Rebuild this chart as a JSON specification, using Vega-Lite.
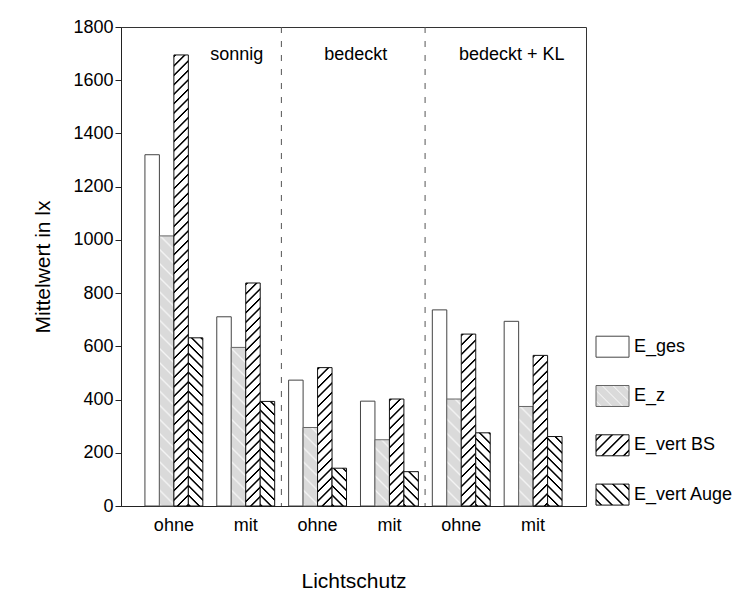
{
"$schema":"https://vega.github.io/schema/vega-lite/v6.json",
"width":465,"height":479,
"autosize":{"type":"none"},
"padding":{"left":121,"top":27,"right":158,"bottom":86},
"params":[
{"name":"sB","value":[{"offset":0,"color":"#fff"},{"offset":0.002,"color":"#000"},{"offset":0.0045,"color":"#000"},{"offset":0.0065,"color":"#fff"},
{"offset":0.02,"color":"#fff"},{"offset":0.022,"color":"#000"},{"offset":0.0245,"color":"#000"},{"offset":0.0265,"color":"#fff"},
{"offset":0.04,"color":"#fff"},{"offset":0.042,"color":"#000"},{"offset":0.0445,"color":"#000"},{"offset":0.0465,"color":"#fff"},
{"offset":0.06,"color":"#fff"},{"offset":0.062,"color":"#000"},{"offset":0.0645,"color":"#000"},{"offset":0.0665,"color":"#fff"},
{"offset":0.08,"color":"#fff"},{"offset":0.082,"color":"#000"},{"offset":0.0845,"color":"#000"},{"offset":0.0865,"color":"#fff"},
{"offset":0.1,"color":"#fff"},{"offset":0.102,"color":"#000"},{"offset":0.1045,"color":"#000"},{"offset":0.1065,"color":"#fff"},
{"offset":0.12,"color":"#fff"},{"offset":0.122,"color":"#000"},{"offset":0.1245,"color":"#000"},{"offset":0.1265,"color":"#fff"},
{"offset":0.14,"color":"#fff"},{"offset":0.142,"color":"#000"},{"offset":0.1445,"color":"#000"},{"offset":0.1465,"color":"#fff"},
{"offset":0.16,"color":"#fff"},{"offset":0.162,"color":"#000"},{"offset":0.1645,"color":"#000"},{"offset":0.1665,"color":"#fff"},
{"offset":0.18,"color":"#fff"},{"offset":0.182,"color":"#000"},{"offset":0.1845,"color":"#000"},{"offset":0.1865,"color":"#fff"},
{"offset":0.2,"color":"#fff"},{"offset":0.202,"color":"#000"},{"offset":0.2045,"color":"#000"},{"offset":0.2065,"color":"#fff"},
{"offset":0.22,"color":"#fff"},{"offset":0.222,"color":"#000"},{"offset":0.2245,"color":"#000"},{"offset":0.2265,"color":"#fff"},
{"offset":0.24,"color":"#fff"},{"offset":0.242,"color":"#000"},{"offset":0.2445,"color":"#000"},{"offset":0.2465,"color":"#fff"},
{"offset":0.26,"color":"#fff"},{"offset":0.262,"color":"#000"},{"offset":0.2645,"color":"#000"},{"offset":0.2665,"color":"#fff"},
{"offset":0.28,"color":"#fff"},{"offset":0.282,"color":"#000"},{"offset":0.2845,"color":"#000"},{"offset":0.2865,"color":"#fff"},
{"offset":0.3,"color":"#fff"},{"offset":0.302,"color":"#000"},{"offset":0.3045,"color":"#000"},{"offset":0.3065,"color":"#fff"},
{"offset":0.32,"color":"#fff"},{"offset":0.322,"color":"#000"},{"offset":0.3245,"color":"#000"},{"offset":0.3265,"color":"#fff"},
{"offset":0.34,"color":"#fff"},{"offset":0.342,"color":"#000"},{"offset":0.3445,"color":"#000"},{"offset":0.3465,"color":"#fff"},
{"offset":0.36,"color":"#fff"},{"offset":0.362,"color":"#000"},{"offset":0.3645,"color":"#000"},{"offset":0.3665,"color":"#fff"},
{"offset":0.38,"color":"#fff"},{"offset":0.382,"color":"#000"},{"offset":0.3845,"color":"#000"},{"offset":0.3865,"color":"#fff"},
{"offset":0.4,"color":"#fff"},{"offset":0.402,"color":"#000"},{"offset":0.4045,"color":"#000"},{"offset":0.4065,"color":"#fff"},
{"offset":0.42,"color":"#fff"},{"offset":0.422,"color":"#000"},{"offset":0.4245,"color":"#000"},{"offset":0.4265,"color":"#fff"},
{"offset":0.44,"color":"#fff"},{"offset":0.442,"color":"#000"},{"offset":0.4445,"color":"#000"},{"offset":0.4465,"color":"#fff"},
{"offset":0.46,"color":"#fff"},{"offset":0.462,"color":"#000"},{"offset":0.4645,"color":"#000"},{"offset":0.4665,"color":"#fff"},
{"offset":0.48,"color":"#fff"},{"offset":0.482,"color":"#000"},{"offset":0.4845,"color":"#000"},{"offset":0.4865,"color":"#fff"},
{"offset":0.5,"color":"#fff"},{"offset":0.502,"color":"#000"},{"offset":0.5045,"color":"#000"},{"offset":0.5065,"color":"#fff"},
{"offset":0.52,"color":"#fff"},{"offset":0.522,"color":"#000"},{"offset":0.5245,"color":"#000"},{"offset":0.5265,"color":"#fff"},
{"offset":0.54,"color":"#fff"},{"offset":0.542,"color":"#000"},{"offset":0.5445,"color":"#000"},{"offset":0.5465,"color":"#fff"},
{"offset":0.56,"color":"#fff"},{"offset":0.562,"color":"#000"},{"offset":0.5645,"color":"#000"},{"offset":0.5665,"color":"#fff"},
{"offset":0.58,"color":"#fff"},{"offset":0.582,"color":"#000"},{"offset":0.5845,"color":"#000"},{"offset":0.5865,"color":"#fff"},
{"offset":0.6,"color":"#fff"},{"offset":0.602,"color":"#000"},{"offset":0.6045,"color":"#000"},{"offset":0.6065,"color":"#fff"},
{"offset":0.62,"color":"#fff"},{"offset":0.622,"color":"#000"},{"offset":0.6245,"color":"#000"},{"offset":0.6265,"color":"#fff"},
{"offset":0.64,"color":"#fff"},{"offset":0.642,"color":"#000"},{"offset":0.6445,"color":"#000"},{"offset":0.6465,"color":"#fff"},
{"offset":0.66,"color":"#fff"},{"offset":0.662,"color":"#000"},{"offset":0.6645,"color":"#000"},{"offset":0.6665,"color":"#fff"},
{"offset":0.68,"color":"#fff"},{"offset":0.682,"color":"#000"},{"offset":0.6845,"color":"#000"},{"offset":0.6865,"color":"#fff"},
{"offset":0.7,"color":"#fff"},{"offset":0.702,"color":"#000"},{"offset":0.7045,"color":"#000"},{"offset":0.7065,"color":"#fff"},
{"offset":0.72,"color":"#fff"},{"offset":0.722,"color":"#000"},{"offset":0.7245,"color":"#000"},{"offset":0.7265,"color":"#fff"},
{"offset":0.74,"color":"#fff"},{"offset":0.742,"color":"#000"},{"offset":0.7445,"color":"#000"},{"offset":0.7465,"color":"#fff"},
{"offset":0.76,"color":"#fff"},{"offset":0.762,"color":"#000"},{"offset":0.7645,"color":"#000"},{"offset":0.7665,"color":"#fff"},
{"offset":0.78,"color":"#fff"},{"offset":0.782,"color":"#000"},{"offset":0.7845,"color":"#000"},{"offset":0.7865,"color":"#fff"},
{"offset":0.8,"color":"#fff"},{"offset":0.802,"color":"#000"},{"offset":0.8045,"color":"#000"},{"offset":0.8065,"color":"#fff"},
{"offset":0.82,"color":"#fff"},{"offset":0.822,"color":"#000"},{"offset":0.8245,"color":"#000"},{"offset":0.8265,"color":"#fff"},
{"offset":0.84,"color":"#fff"},{"offset":0.842,"color":"#000"},{"offset":0.8445,"color":"#000"},{"offset":0.8465,"color":"#fff"},
{"offset":0.86,"color":"#fff"},{"offset":0.862,"color":"#000"},{"offset":0.8645,"color":"#000"},{"offset":0.8665,"color":"#fff"},
{"offset":0.88,"color":"#fff"},{"offset":0.882,"color":"#000"},{"offset":0.8845,"color":"#000"},{"offset":0.8865,"color":"#fff"},
{"offset":0.9,"color":"#fff"},{"offset":0.902,"color":"#000"},{"offset":0.9045,"color":"#000"},{"offset":0.9065,"color":"#fff"},
{"offset":0.92,"color":"#fff"},{"offset":0.922,"color":"#000"},{"offset":0.9245,"color":"#000"},{"offset":0.9265,"color":"#fff"},
{"offset":0.94,"color":"#fff"},{"offset":0.942,"color":"#000"},{"offset":0.9445,"color":"#000"},{"offset":0.9465,"color":"#fff"},
{"offset":0.96,"color":"#fff"},{"offset":0.962,"color":"#000"},{"offset":0.9645,"color":"#000"},{"offset":0.9665,"color":"#fff"},
{"offset":0.98,"color":"#fff"},{"offset":0.982,"color":"#000"},{"offset":0.9845,"color":"#000"},{"offset":0.9865,"color":"#fff"},
{"offset":1,"color":"#fff"}]},
{"name":"sG","value":[{"offset":0,"color":"#dadada"},{"offset":0.004,"color":"#f4f4f4"},{"offset":0.008,"color":"#dadada"},
{"offset":0.03,"color":"#dadada"},{"offset":0.034,"color":"#f4f4f4"},{"offset":0.038,"color":"#dadada"},
{"offset":0.06,"color":"#dadada"},{"offset":0.064,"color":"#f4f4f4"},{"offset":0.068,"color":"#dadada"},
{"offset":0.09,"color":"#dadada"},{"offset":0.094,"color":"#f4f4f4"},{"offset":0.098,"color":"#dadada"},
{"offset":0.12,"color":"#dadada"},{"offset":0.124,"color":"#f4f4f4"},{"offset":0.128,"color":"#dadada"},
{"offset":0.15,"color":"#dadada"},{"offset":0.154,"color":"#f4f4f4"},{"offset":0.158,"color":"#dadada"},
{"offset":0.18,"color":"#dadada"},{"offset":0.184,"color":"#f4f4f4"},{"offset":0.188,"color":"#dadada"},
{"offset":0.21,"color":"#dadada"},{"offset":0.214,"color":"#f4f4f4"},{"offset":0.218,"color":"#dadada"},
{"offset":0.24,"color":"#dadada"},{"offset":0.244,"color":"#f4f4f4"},{"offset":0.248,"color":"#dadada"},
{"offset":0.27,"color":"#dadada"},{"offset":0.274,"color":"#f4f4f4"},{"offset":0.278,"color":"#dadada"},
{"offset":0.3,"color":"#dadada"},{"offset":0.304,"color":"#f4f4f4"},{"offset":0.308,"color":"#dadada"},
{"offset":0.33,"color":"#dadada"},{"offset":0.334,"color":"#f4f4f4"},{"offset":0.338,"color":"#dadada"},
{"offset":0.36,"color":"#dadada"},{"offset":0.364,"color":"#f4f4f4"},{"offset":0.368,"color":"#dadada"},
{"offset":0.39,"color":"#dadada"},{"offset":0.394,"color":"#f4f4f4"},{"offset":0.398,"color":"#dadada"},
{"offset":0.42,"color":"#dadada"},{"offset":0.424,"color":"#f4f4f4"},{"offset":0.428,"color":"#dadada"},
{"offset":0.45,"color":"#dadada"},{"offset":0.454,"color":"#f4f4f4"},{"offset":0.458,"color":"#dadada"},
{"offset":0.48,"color":"#dadada"},{"offset":0.484,"color":"#f4f4f4"},{"offset":0.488,"color":"#dadada"},
{"offset":0.51,"color":"#dadada"},{"offset":0.514,"color":"#f4f4f4"},{"offset":0.518,"color":"#dadada"},
{"offset":0.54,"color":"#dadada"},{"offset":0.544,"color":"#f4f4f4"},{"offset":0.548,"color":"#dadada"},
{"offset":0.57,"color":"#dadada"},{"offset":0.574,"color":"#f4f4f4"},{"offset":0.578,"color":"#dadada"},
{"offset":0.6,"color":"#dadada"},{"offset":0.604,"color":"#f4f4f4"},{"offset":0.608,"color":"#dadada"},
{"offset":0.63,"color":"#dadada"},{"offset":0.634,"color":"#f4f4f4"},{"offset":0.638,"color":"#dadada"},
{"offset":0.66,"color":"#dadada"},{"offset":0.664,"color":"#f4f4f4"},{"offset":0.668,"color":"#dadada"},
{"offset":0.69,"color":"#dadada"},{"offset":0.694,"color":"#f4f4f4"},{"offset":0.698,"color":"#dadada"},
{"offset":0.72,"color":"#dadada"},{"offset":0.724,"color":"#f4f4f4"},{"offset":0.728,"color":"#dadada"},
{"offset":0.75,"color":"#dadada"},{"offset":0.754,"color":"#f4f4f4"},{"offset":0.758,"color":"#dadada"},
{"offset":0.78,"color":"#dadada"},{"offset":0.784,"color":"#f4f4f4"},{"offset":0.788,"color":"#dadada"},
{"offset":0.81,"color":"#dadada"},{"offset":0.814,"color":"#f4f4f4"},{"offset":0.818,"color":"#dadada"},
{"offset":0.84,"color":"#dadada"},{"offset":0.844,"color":"#f4f4f4"},{"offset":0.848,"color":"#dadada"},
{"offset":0.87,"color":"#dadada"},{"offset":0.874,"color":"#f4f4f4"},{"offset":0.878,"color":"#dadada"},
{"offset":0.9,"color":"#dadada"},{"offset":0.904,"color":"#f4f4f4"},{"offset":0.908,"color":"#dadada"},
{"offset":0.93,"color":"#dadada"},{"offset":0.934,"color":"#f4f4f4"},{"offset":0.938,"color":"#dadada"},
{"offset":0.96,"color":"#dadada"},{"offset":0.964,"color":"#f4f4f4"},{"offset":0.968,"color":"#dadada"},
{"offset":0.99,"color":"#dadada"},{"offset":0.994,"color":"#f4f4f4"},{"offset":0.998,"color":"#dadada"},
{"offset":1,"color":"#dadada"}]},
{"name":"lB","value":[{"offset":0,"color":"#fff"},
{"offset":0.07,"color":"#fff"},{"offset":0.09,"color":"#000"},{"offset":0.11,"color":"#000"},{"offset":0.13,"color":"#fff"},
{"offset":0.27,"color":"#fff"},{"offset":0.29,"color":"#000"},{"offset":0.31,"color":"#000"},{"offset":0.33,"color":"#fff"},
{"offset":0.47,"color":"#fff"},{"offset":0.49,"color":"#000"},{"offset":0.51,"color":"#000"},{"offset":0.53,"color":"#fff"},
{"offset":0.67,"color":"#fff"},{"offset":0.69,"color":"#000"},{"offset":0.71,"color":"#000"},{"offset":0.73,"color":"#fff"},
{"offset":0.87,"color":"#fff"},{"offset":0.89,"color":"#000"},{"offset":0.91,"color":"#000"},{"offset":0.93,"color":"#fff"},
{"offset":1,"color":"#fff"}]},
{"name":"lG","value":[{"offset":0,"color":"#dadada"},
{"offset":0.075,"color":"#dadada"},{"offset":0.1,"color":"#f4f4f4"},{"offset":0.125,"color":"#dadada"},
{"offset":0.275,"color":"#dadada"},{"offset":0.3,"color":"#f4f4f4"},{"offset":0.325,"color":"#dadada"},
{"offset":0.475,"color":"#dadada"},{"offset":0.5,"color":"#f4f4f4"},{"offset":0.525,"color":"#dadada"},
{"offset":0.675,"color":"#dadada"},{"offset":0.7,"color":"#f4f4f4"},{"offset":0.725,"color":"#dadada"},
{"offset":0.875,"color":"#dadada"},{"offset":0.9,"color":"#f4f4f4"},{"offset":0.925,"color":"#dadada"},
{"offset":1,"color":"#dadada"}]}
],
"data":{"values":[
{"g":"sonnig|ohne","series":"E_ges","value":1320},
{"g":"sonnig|ohne","series":"E_z","value":1015},
{"g":"sonnig|ohne","series":"E_vert BS","value":1695},
{"g":"sonnig|ohne","series":"E_vert Auge","value":632},
{"g":"sonnig|mit","series":"E_ges","value":711},
{"g":"sonnig|mit","series":"E_z","value":596},
{"g":"sonnig|mit","series":"E_vert BS","value":838},
{"g":"sonnig|mit","series":"E_vert Auge","value":393},
{"g":"bedeckt|ohne","series":"E_ges","value":473},
{"g":"bedeckt|ohne","series":"E_z","value":295},
{"g":"bedeckt|ohne","series":"E_vert BS","value":520},
{"g":"bedeckt|ohne","series":"E_vert Auge","value":142},
{"g":"bedeckt|mit","series":"E_ges","value":394},
{"g":"bedeckt|mit","series":"E_z","value":249},
{"g":"bedeckt|mit","series":"E_vert BS","value":402},
{"g":"bedeckt|mit","series":"E_vert Auge","value":129},
{"g":"bedeckt + KL|ohne","series":"E_ges","value":737},
{"g":"bedeckt + KL|ohne","series":"E_z","value":402},
{"g":"bedeckt + KL|ohne","series":"E_vert BS","value":646},
{"g":"bedeckt + KL|ohne","series":"E_vert Auge","value":275},
{"g":"bedeckt + KL|mit","series":"E_ges","value":694},
{"g":"bedeckt + KL|mit","series":"E_z","value":374},
{"g":"bedeckt + KL|mit","series":"E_vert BS","value":566},
{"g":"bedeckt + KL|mit","series":"E_vert Auge","value":261}
]},
"config":{
"font":"Liberation Sans",
"view":{"stroke":"#333","strokeWidth":1},
"axis":{"grid":false,"labelFont":"Liberation Sans","titleFont":"Liberation Sans","labelColor":"#000","titleColor":"#000","domainColor":"#222","tickColor":"#222","labelFontSize":18,"titleFontSize":21,"titleFontWeight":"normal"}
},
"layer":[
{
"mark":{"type":"bar","strokeWidth":1},
"encoding":{
"x":{"field":"g","type":"nominal","title":"Lichtschutz","scale":{"domain":["sonnig|ohne","sonnig|mit","bedeckt|ohne","bedeckt|mit","bedeckt + KL|ohne","bedeckt + KL|mit"],"paddingInner":0.194,"paddingOuter":0.333},
"axis":{"labelExpr":"split(datum.label,'|')[1]","labelAngle":0,"ticks":false,"labelPadding":10,"titlePadding":36}},
"xOffset":{"field":"series","type":"nominal","scale":{"domain":["E_ges","E_z","E_vert BS","E_vert Auge"],"paddingInner":0,"paddingOuter":0}},
"y":{"field":"value","type":"quantitative","title":"Mittelwert in lx","scale":{"domain":[0,1800],"nice":false},
"axis":{"values":[0,200,400,600,800,1000,1200,1400,1600,1800],"format":"d","tickSize":6,"labelPadding":2,"titlePadding":19}},
"fill":{"value":{"expr":"datum.series ? (datum.series === 'E_z' ? {gradient:'linear',x1:0,y1:1,x2:472*bandwidth('xOffset')/(pow(bandwidth('xOffset'),2)+pow(scale('y',0)-scale('y',datum.value),2)),y2:1-472*(scale('y',0)-scale('y',datum.value))/(pow(bandwidth('xOffset'),2)+pow(scale('y',0)-scale('y',datum.value),2)),stops:sG} : datum.series === 'E_vert BS' ? {gradient:'linear',x1:0,y1:0,x2:472*bandwidth('xOffset')/(pow(bandwidth('xOffset'),2)+pow(scale('y',0)-scale('y',datum.value),2)),y2:472*(scale('y',0)-scale('y',datum.value))/(pow(bandwidth('xOffset'),2)+pow(scale('y',0)-scale('y',datum.value),2)),stops:sB} : datum.series === 'E_vert Auge' ? {gradient:'linear',x1:0,y1:1,x2:472*bandwidth('xOffset')/(pow(bandwidth('xOffset'),2)+pow(scale('y',0)-scale('y',datum.value),2)),y2:1-472*(scale('y',0)-scale('y',datum.value))/(pow(bandwidth('xOffset'),2)+pow(scale('y',0)-scale('y',datum.value),2)),stops:sB} : '#ffffff') : (datum.value === 'E_z' ? {gradient:'linear',x1:0,y1:1,x2:1.1647,y2:0.2588,stops:lG} : datum.value === 'E_vert BS' ? {gradient:'linear',x1:0,y1:0,x2:1.1647,y2:0.7412,stops:lB} : datum.value === 'E_vert Auge' ? {gradient:'linear',x1:0,y1:1,x2:1.1647,y2:0.2588,stops:lB} : '#ffffff')"}},
"stroke":{"field":"series","type":"nominal","scale":{"domain":["E_ges","E_z","E_vert BS","E_vert Auge"],"range":["#444444","#666666","#111111","#111111"]},
"legend":{"title":null,"orient":"none","legendX":474.5,"legendY":302.7,"symbolType":"M-1,-0.636H1V0.636H-1Z","symbolSize":1089,"symbolStrokeWidth":1,"rowPadding":19.3,"labelOffset":4.5,"labelFontSize":18,"labelFont":"Liberation Sans","labelColor":"#000","labelLimit":300}}
}
},
{
"data":{"values":[{"g":"bedeckt|ohne"},{"g":"bedeckt + KL|ohne"}]},
"mark":{"type":"rule","strokeDash":[6,8],"color":"#555","strokeWidth":1},
"encoding":{
"x":{"field":"g","type":"nominal","title":"Lichtschutz","bandPosition":-0.125,"scale":{"domain":["sonnig|ohne","sonnig|mit","bedeckt|ohne","bedeckt|mit","bedeckt + KL|ohne","bedeckt + KL|mit"]}}
}
},
{
"data":{"values":[{"Bedingung":"sonnig","g":"sonnig|mit"}]},
"mark":{"type":"text","fontSize":18,"font":"Liberation Sans","baseline":"alphabetic","align":"center","color":"#000"},
"encoding":{
"x":{"field":"g","type":"nominal","title":"Lichtschutz","bandPosition":0.345,"scale":{"domain":["sonnig|ohne","sonnig|mit","bedeckt|ohne","bedeckt|mit","bedeckt + KL|ohne","bedeckt + KL|mit"]}},
"y":{"datum":1677,"type":"quantitative","title":"Mittelwert in lx","scale":{"domain":[0,1800],"nice":false}},
"text":{"field":"Bedingung"}
}
},
{
"data":{"values":[{"Bedingung":"bedeckt","g":"bedeckt|mit"}]},
"mark":{"type":"text","fontSize":18,"font":"Liberation Sans","baseline":"alphabetic","align":"center","color":"#000"},
"encoding":{
"x":{"field":"g","type":"nominal","title":"Lichtschutz","bandPosition":-0.08,"scale":{"domain":["sonnig|ohne","sonnig|mit","bedeckt|ohne","bedeckt|mit","bedeckt + KL|ohne","bedeckt + KL|mit"]}},
"y":{"datum":1677,"type":"quantitative","title":"Mittelwert in lx","scale":{"domain":[0,1800],"nice":false}},
"text":{"field":"Bedingung"}
}
},
{
"data":{"values":[{"Bedingung":"bedeckt + KL","g":"bedeckt + KL|mit"}]},
"mark":{"type":"text","fontSize":18,"font":"Liberation Sans","baseline":"alphabetic","align":"center","color":"#000"},
"encoding":{
"x":{"field":"g","type":"nominal","title":"Lichtschutz","bandPosition":0.13,"scale":{"domain":["sonnig|ohne","sonnig|mit","bedeckt|ohne","bedeckt|mit","bedeckt + KL|ohne","bedeckt + KL|mit"]}},
"y":{"datum":1677,"type":"quantitative","title":"Mittelwert in lx","scale":{"domain":[0,1800],"nice":false}},
"text":{"field":"Bedingung"}
}
}
]
}
